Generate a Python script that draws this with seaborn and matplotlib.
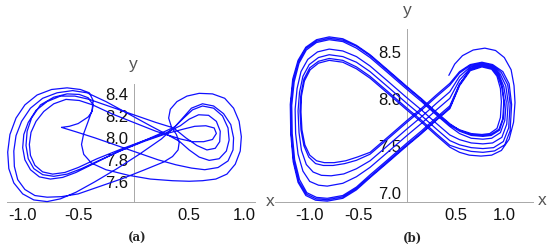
import numpy as np
import pandas as pd
import matplotlib
matplotlib.use("Agg")
import matplotlib.pyplot as plt
import seaborn as sns
from matplotlib.ticker import FixedLocator, MultipleLocator, FormatStrFormatter

# ---------------- Panel (a): trajectory, traced piece by piece ----------------
a_start_x = [-0.65, -0.52, -0.35, -0.15, 0.05, 0.22, 0.38, 0.52, 0.64, 0.76, 0.85, 0.895, 0.90, 0.875, 0.81, 0.72, 0.62, 0.52, 0.45, 0.38]
a_start_y = [8.085, 8.045, 7.99, 7.92, 7.85, 7.79, 7.745, 7.715, 7.70, 7.72, 7.78, 7.88, 7.99, 8.11, 8.21, 8.28, 8.30, 8.26, 8.18, 8.10]

a_outer_x = [0.25, 0.05, -0.15, -0.35, -0.52, -0.66, -0.78, -0.90, -1.00, -1.08, -1.125, -1.135, -1.115, -1.06, -0.98, -0.87,
             -0.74, -0.60, -0.48, -0.40, -0.365, -0.375, -0.41, -0.45, -0.47, -0.45, -0.38, -0.25, -0.05, 0.15, 0.35, 0.50]
a_outer_y = [7.98, 7.84, 7.71, 7.59, 7.495, 7.435, 7.41, 7.425, 7.48, 7.58, 7.71, 7.86, 8.02, 8.17, 8.29, 8.38,
             8.43, 8.445, 8.43, 8.40, 8.33, 8.24, 8.14, 8.03, 7.93, 7.84, 7.76, 7.70, 7.65, 7.615, 7.60, 7.595]

a_right1_x = [0.62, 0.74, 0.84, 0.915, 0.96, 0.97, 0.95, 0.90, 0.82, 0.71, 0.59, 0.48, 0.39, 0.33, 0.315, 0.34, 0.385, 0.41, 0.40, 0.35, 0.27]
a_right1_y = [7.60, 7.615, 7.66, 7.75, 7.87, 8.00, 8.14, 8.26, 8.35, 8.39, 8.395, 8.37, 8.32, 8.25, 8.17, 8.09, 8.02, 7.95, 7.88, 7.82, 7.77]

a_left2_x = [0.10, -0.10, -0.30, -0.50, -0.65, -0.78, -0.89, -0.98, -1.045, -1.075, -1.08, -1.06, -1.01, -0.93, -0.82, -0.69,
             -0.55, -0.42, -0.25, -0.05, 0.15, 0.30, 0.41]
a_left2_y = [7.70, 7.62, 7.55, 7.48, 7.455, 7.45, 7.465, 7.52, 7.61, 7.73, 7.87, 8.01, 8.14, 8.26, 8.35, 8.40,
             8.42, 8.40, 8.32, 8.21, 8.10, 8.02, 7.96]

a_right2_x = [0.50, 0.59, 0.68, 0.77, 0.835, 0.86, 0.85, 0.80, 0.72, 0.62, 0.53, 0.45, 0.37]
a_right2_y = [7.88, 7.815, 7.785, 7.80, 7.87, 7.97, 8.08, 8.19, 8.26, 8.28, 8.245, 8.17, 8.09]

a_left3_x = [0.22, 0.05, -0.15, -0.35, -0.52, -0.64, -0.75, -0.85, -0.93, -0.98, -1.00, -0.99, -0.95, -0.88, -0.78, -0.66,
             -0.53, -0.40, -0.20, 0.00, 0.20, 0.36]
a_left3_y = [8.02, 7.945, 7.86, 7.76, 7.675, 7.63, 7.615, 7.635, 7.70, 7.79, 7.90, 8.02, 8.13, 8.24, 8.32, 8.37,
             8.37, 8.34, 8.27, 8.20, 8.13, 8.08]

a_right3_x = [0.47, 0.57, 0.66, 0.735, 0.775, 0.78, 0.745, 0.675, 0.585, 0.50, 0.42]
a_right3_y = [7.99, 7.92, 7.88, 7.895, 7.955, 8.05, 8.14, 8.195, 8.20, 8.16, 8.10]

a_left4_x = [0.28, 0.08, -0.12, -0.33, -0.50, -0.62, -0.73, -0.82, -0.89, -0.93, -0.94, -0.925, -0.88, -0.81, -0.72, -0.61,
             -0.49, -0.37, -0.20, 0.00, 0.20, 0.42]
a_left4_y = [8.03, 7.96, 7.885, 7.80, 7.72, 7.675, 7.66, 7.68, 7.74, 7.83, 7.93, 8.04, 8.14, 8.23, 8.30, 8.34,
             8.33, 8.29, 8.21, 8.13, 8.05, 7.98]

a_right4_x = [0.53, 0.63, 0.71, 0.745, 0.725, 0.65, 0.55, 0.45]
a_right4_y = [7.955, 7.955, 7.975, 8.03, 8.08, 8.10, 8.095, 8.07]

a_left5_x = [0.30, 0.10, -0.10, -0.30, -0.47, -0.60, -0.72, -0.82, -0.90, -0.95, -0.97, -0.96, -0.92, -0.84, -0.72, -0.60,
             -0.49, -0.41, -0.365, -0.375, -0.41, -0.50, -0.58, -0.65]
a_left5_y = [8.03, 7.96, 7.88, 7.79, 7.71, 7.66, 7.64, 7.655, 7.71, 7.80, 7.92, 8.05, 8.17, 8.29, 8.36, 8.39,
             8.385, 8.355, 8.29, 8.23, 8.18, 8.12, 8.095, 8.085]

# ---------------- Panel (b): trajectory, lobe by lobe ----------------
b_R0_x = [0.43, 0.49, 0.57, 0.68, 0.80, 0.91, 1.00, 1.07, 1.10, 1.11, 1.095, 1.05, 0.97, 0.87, 0.76, 0.64, 0.54, 0.44]
b_R0_y = [8.24, 8.36, 8.45, 8.51, 8.53, 8.505, 8.43, 8.30, 8.13, 7.95, 7.74, 7.56, 7.44, 7.39, 7.38, 7.39, 7.42, 7.475]

b_L5_x = [0.30, 0.15, 0.00, -0.20, -0.38, -0.52, -0.66, -0.80, -0.91, -0.995, -1.055, -1.085, -1.09, -1.08, -1.05, -1.00,
          -0.93, -0.85, -0.75, -0.63, -0.51, -0.38, -0.20, 0.00, 0.15, 0.30, 0.44]
b_L5_y = [7.60, 7.74, 7.87, 8.05, 8.21, 8.31, 8.38, 8.40, 8.37, 8.30, 8.18, 8.02, 7.85, 7.66, 7.50, 7.39,
          7.33, 7.31, 7.31, 7.33, 7.37, 7.42, 7.58, 7.76, 7.89, 8.03, 8.155]

b_R1_x = [0.54, 0.65, 0.77, 0.88, 0.985, 1.05, 1.075, 1.06, 1.005, 0.90, 0.78, 0.66, 0.54, 0.44]
b_R1_y = [8.28, 8.355, 8.38, 8.355, 8.28, 8.15, 7.93, 7.65, 7.50, 7.435, 7.42, 7.43, 7.46, 7.495]

b_L4_x = [0.30, 0.15, 0.00, -0.20, -0.38, -0.52, -0.66, -0.80, -0.91, -1.00, -1.06, -1.09, -1.10, -1.09, -1.06, -1.01,
          -0.94, -0.86, -0.76, -0.64, -0.52, -0.38, -0.20, 0.00, 0.15, 0.30, 0.44]
b_L4_y = [7.62, 7.76, 7.89, 8.07, 8.23, 8.33, 8.40, 8.42, 8.39, 8.32, 8.20, 8.04, 7.86, 7.66, 7.49, 7.37,
          7.30, 7.28, 7.28, 7.30, 7.335, 7.40, 7.56, 7.74, 7.87, 8.01, 8.135]

b_R2_x = [0.54, 0.65, 0.77, 0.88, 0.97, 1.035, 1.06, 1.045, 0.99, 0.89, 0.78, 0.66, 0.54, 0.44]
b_R2_y = [8.265, 8.345, 8.37, 8.345, 8.27, 8.14, 7.94, 7.68, 7.535, 7.47, 7.46, 7.47, 7.50, 7.545]

b_L7_x = [0.30, 0.15, 0.00, -0.20, -0.38, -0.52, -0.66, -0.80, -0.91, -1.005, -1.07, -1.105, -1.12, -1.11, -1.085, -1.035,
          -0.965, -0.88, -0.78, -0.65, -0.52, -0.38, -0.20, 0.00, 0.15, 0.30, 0.44]
b_L7_y = [7.67, 7.81, 7.94, 8.12, 8.28, 8.38, 8.44, 8.46, 8.43, 8.355, 8.23, 8.06, 7.86, 7.63, 7.44, 7.29,
          7.21, 7.175, 7.17, 7.19, 7.245, 7.33, 7.49, 7.67, 7.80, 7.94, 8.065]

b_R3_x = [0.54, 0.65, 0.77, 0.88, 0.955, 1.015, 1.04, 1.025, 0.975, 0.88, 0.78, 0.66, 0.54, 0.44]
b_R3_y = [8.23, 8.33, 8.36, 8.335, 8.26, 8.13, 7.95, 7.72, 7.58, 7.52, 7.51, 7.52, 7.555, 7.605]

b_L3_x = [0.30, 0.15, 0.00, -0.20, -0.38, -0.52, -0.66, -0.80, -0.92, -1.02, -1.09, -1.13, -1.15, -1.145, -1.12, -1.07,
          -1.00, -0.91, -0.82, -0.66, -0.52, -0.38, -0.20, 0.00, 0.15, 0.30, 0.44]
b_L3_y = [7.73, 7.87, 8.00, 8.18, 8.34, 8.44, 8.50, 8.52, 8.49, 8.41, 8.28, 8.10, 7.88, 7.62, 7.40, 7.22,
          7.11, 7.07, 7.06, 7.09, 7.16, 7.26, 7.42, 7.60, 7.73, 7.87, 7.995]

b_R4_x = [0.54, 0.65, 0.77, 0.88, 0.945, 0.995, 1.02, 1.005, 0.96, 0.87, 0.78, 0.66, 0.54, 0.44]
b_R4_y = [8.19, 8.315, 8.35, 8.325, 8.25, 8.12, 7.96, 7.76, 7.63, 7.57, 7.56, 7.57, 7.62, 7.695]

b_L2_x = [0.30, 0.15, 0.00, -0.20, -0.38, -0.52, -0.66, -0.80, -0.93, -1.035, -1.11, -1.16, -1.185, -1.18, -1.155, -1.105,
          -1.03, -0.93, -0.82, -0.66, -0.52, -0.38, -0.20, 0.00, 0.15, 0.30, 0.44]
b_L2_y = [7.82, 7.96, 8.09, 8.27, 8.43, 8.53, 8.60, 8.62, 8.59, 8.51, 8.37, 8.17, 7.92, 7.62, 7.34, 7.13,
          6.99, 6.94, 6.93, 6.96, 7.05, 7.18, 7.34, 7.52, 7.65, 7.79, 7.915]

b_R5_x = [0.54, 0.65, 0.77, 0.875, 0.935, 0.975, 0.995, 0.985, 0.945, 0.86, 0.78, 0.66, 0.54, 0.44]
b_R5_y = [8.15, 8.30, 8.34, 8.315, 8.24, 8.11, 7.96, 7.78, 7.665, 7.61, 7.60, 7.61, 7.655, 7.725]

b_L1_x = [0.30, 0.15, 0.00, -0.20, -0.38, -0.52, -0.66, -0.80, -0.93, -1.04, -1.12, -1.175, -1.20, -1.195, -1.17, -1.12,
          -1.04, -0.94, -0.82, -0.66, -0.52, -0.38, -0.20, 0.00, 0.15, 0.30, 0.44]
b_L1_y = [7.85, 7.99, 8.12, 8.30, 8.46, 8.56, 8.63, 8.65, 8.62, 8.54, 8.40, 8.20, 7.93, 7.62, 7.32, 7.10,
          6.96, 6.91, 6.90, 6.93, 7.02, 7.15, 7.31, 7.49, 7.62, 7.76, 7.885]

b_R6_x = [0.54, 0.65, 0.77, 0.87, 0.925, 0.96, 0.97, 0.96, 0.925, 0.85, 0.77, 0.66, 0.54, 0.44]
b_R6_y = [8.13, 8.29, 8.33, 8.305, 8.23, 8.10, 7.96, 7.79, 7.675, 7.62, 7.61, 7.62, 7.66, 7.715]

b_L6_x = [0.30, 0.15, 0.00, -0.20, -0.38, -0.52, -0.66, -0.80, -0.93, -1.04, -1.115, -1.17, -1.195, -1.19, -1.165, -1.115,
          -1.035, -0.935, -0.82, -0.66, -0.52, -0.38, -0.20, 0.00, 0.15, 0.30, 0.44]
b_L6_y = [7.84, 7.98, 8.11, 8.29, 8.45, 8.55, 8.615, 8.635, 8.605, 8.525, 8.385, 8.185, 7.925, 7.62, 7.33, 7.115,
          6.975, 6.925, 6.915, 6.945, 7.035, 7.16, 7.32, 7.50, 7.63, 7.77, 7.895]

b_R7_x = [0.54, 0.65, 0.77, 0.875, 0.94, 0.98, 1.00, 0.99, 0.95, 0.865, 0.78, 0.66, 0.54, 0.44, 0.30, 0.15]
b_R7_y = [8.14, 8.305, 8.345, 8.32, 8.245, 8.115, 7.96, 7.78, 7.655, 7.60, 7.59, 7.60, 7.645, 7.71, 7.835, 7.97]

# tick values / labels
a_xticks = [-1.0, -0.5, 0.5, 1.0]
a_yticks = [7.6, 7.8, 8.0, 8.2, 8.4]
b_xticks = [-1.0, -0.5, 0.5, 1.0]
b_yticks = [7.0, 7.5, 8.0, 8.5]
panel_labels = ["(a)", "(b)"]

a_segments = [(a_start_x, a_start_y), (a_outer_x, a_outer_y), (a_right1_x, a_right1_y),
              (a_left2_x, a_left2_y), (a_right2_x, a_right2_y), (a_left3_x, a_left3_y),
              (a_right3_x, a_right3_y), (a_left4_x, a_left4_y), (a_right4_x, a_right4_y),
              (a_left5_x, a_left5_y)]
b_segments = [(b_R0_x, b_R0_y), (b_L5_x, b_L5_y), (b_R1_x, b_R1_y), (b_L4_x, b_L4_y),
              (b_R2_x, b_R2_y), (b_L7_x, b_L7_y), (b_R3_x, b_R3_y), (b_L3_x, b_L3_y),
              (b_R4_x, b_R4_y), (b_L2_x, b_L2_y), (b_R5_x, b_R5_y), (b_L1_x, b_L1_y),
              (b_R6_x, b_R6_y), (b_L6_x, b_L6_y), (b_R7_x, b_R7_y)]


def to_frame(segments):
    xs, ys = [], []
    for sx, sy in segments:
        xs.extend(sx)
        ys.extend(sy)
    return pd.DataFrame({"x": xs, "y": ys, "t": np.arange(len(xs))})


sns.set_theme(style="white")
plt.rcParams["font.family"] = ["Liberation Sans", "DejaVu Sans"]
plt.rcParams["axes.unicode_minus"] = True

BLUE = "#1010ff"
AXC = "#a8a8a8"

fig = plt.figure(figsize=(5.5, 2.53), dpi=100)
ax_a = fig.add_axes([6.7 / 550, 1 - 202.7 / 253, 248.3 / 550, 117.7 / 253])
ax_b = fig.add_axes([275 / 550, 1 - 202.7 / 253, 258 / 550, 172.7 / 253])

cfg = [
    (ax_a, to_frame(a_segments), (-1.144, 1.093), (7.409, 8.48), a_xticks, a_yticks, 0.05, (1.062, 0.01), 1.17),
    (ax_b, to_frame(b_segments), (-1.357, 1.295), (6.894, 8.734), b_xticks, b_yticks, 0.1, (1.034, 0.01), 1.115),
]

for ax, df, xl, yl, xt, yt, yminor, xlab_pos, ylab_y in cfg:
    sns.lineplot(data=df, x="x", y="y", sort=False, estimator=None, ax=ax,
                 color=BLUE, linewidth=0.9)
    for ln in ax.lines:
        ln.set_clip_on(False)
        ln.set_solid_joinstyle("round")
    ax.set_xlim(*xl)
    ax.set_ylim(*yl)
    ax.patch.set_alpha(0)
    for s in ["top", "right"]:
        ax.spines[s].set_visible(False)
    ax.spines["left"].set_position(("data", 0))
    ax.spines["bottom"].set_position(("data", yl[0]))
    for s in ["left", "bottom"]:
        ax.spines[s].set_color(AXC)
        ax.spines[s].set_linewidth(0.7)
        ax.spines[s].set_zorder(1)
    ax.xaxis.set_major_locator(FixedLocator(xt))
    ax.xaxis.set_minor_locator(MultipleLocator(0.1))
    ax.yaxis.set_major_locator(FixedLocator(yt))
    ax.yaxis.set_minor_locator(MultipleLocator(yminor))
    ax.xaxis.set_major_formatter(FormatStrFormatter("%.1f"))
    ax.yaxis.set_major_formatter(FormatStrFormatter("%.1f"))
    ax.tick_params(which="major", direction="in", length=4, width=0.6, color=AXC,
                   labelsize=12, labelcolor="#111111")
    ax.tick_params(which="minor", direction="in", length=2.2, width=0.5, color=AXC)
    ax.tick_params(axis="y", which="major", pad=4)
    ax.tick_params(axis="x", which="major", pad=4)
    ax.set_xlabel("")
    ax.set_ylabel("")
    ax.grid(False)
    ax.text(xlab_pos[0], xlab_pos[1], "x", transform=ax.transAxes, ha="center", va="center",
            fontsize=12.5, color="#555555")
    ax.text(0, ylab_y, "y", transform=ax.get_xaxis_transform(), ha="center", va="center",
            fontsize=12.5, color="#555555")

fig.text(137.5 / 550, 1 - 238 / 253, panel_labels[0], ha="center", va="center",
         fontsize=8.5, fontweight="bold", family=["DejaVu Serif"])
fig.text(412.5 / 550, 1 - 238 / 253, panel_labels[1], ha="center", va="center",
         fontsize=8.5, fontweight="bold", family=["DejaVu Serif"])

fig.savefig("out.png", dpi=100, facecolor="white")
